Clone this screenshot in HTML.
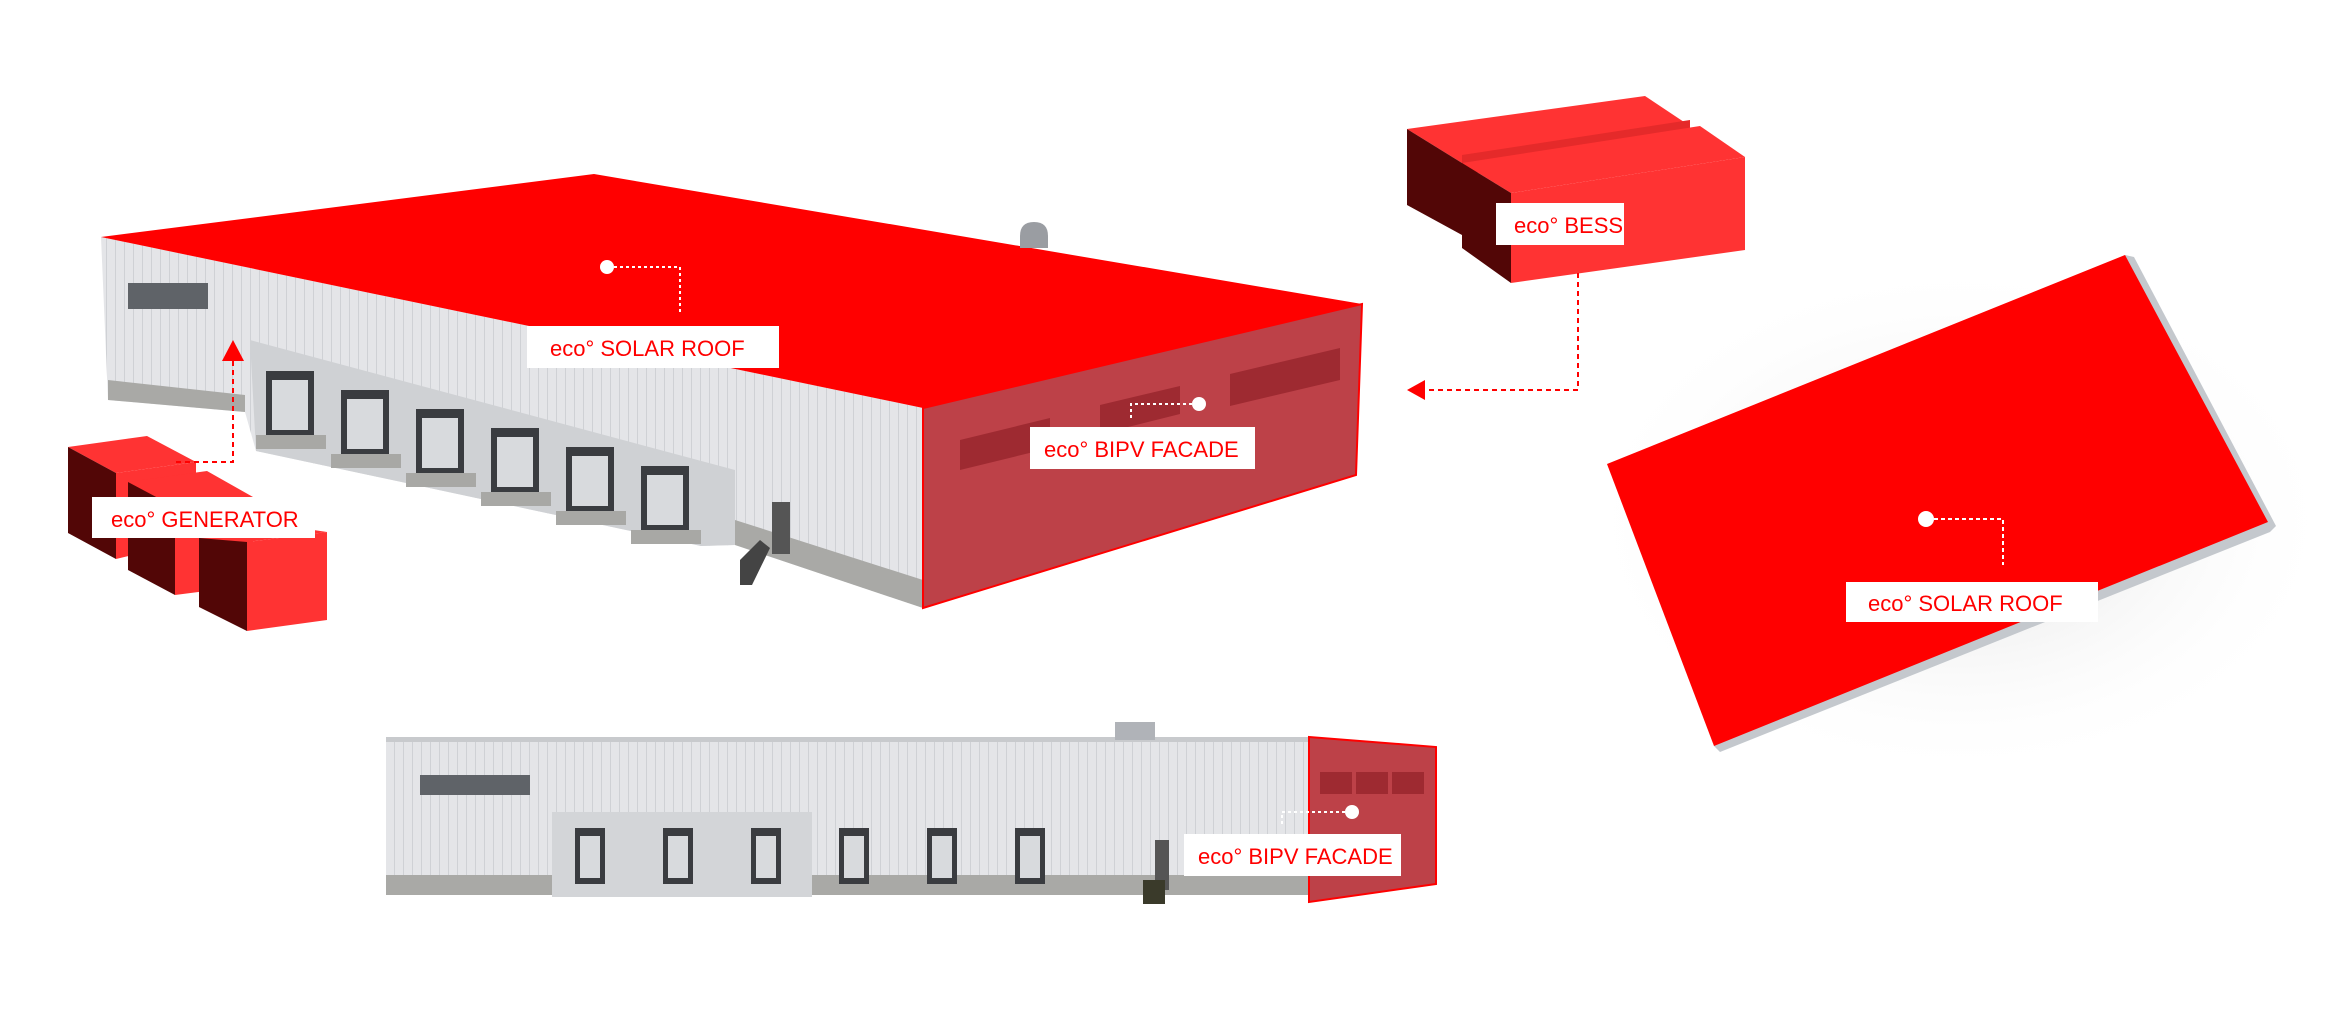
<!DOCTYPE html>
<html><head><meta charset="utf-8"><style>
html,body{margin:0;padding:0;background:#fff;}
svg{display:block;}
.lbl{font-family:"Liberation Sans",sans-serif;fill:#ff0000;font-size:22px;}
</style></head><body>
<svg width="2327" height="1021" viewBox="0 0 2327 1021" xmlns="http://www.w3.org/2000/svg">
<defs>
<pattern id="rib" width="9" height="20" patternUnits="userSpaceOnUse"><rect width="9" height="20" fill="#e4e5e8"/><rect x="7" width="1" height="20" fill="#cfd1d5"/></pattern>
<radialGradient id="sh" cx="0.5" cy="0.5" r="0.5"><stop offset="0" stop-color="#ddd"/><stop offset="1" stop-color="#fff" stop-opacity="0"/></radialGradient>
</defs>

<!-- MAIN BUILDING -->
<polygon points="101,237 923,408 923,608 735,545 701,546 256,451 245,412 108,400" fill="url(#rib)"/>
<polygon points="250,340 735,470 735,545 701,546 256,451" fill="#cfd1d4"/>
<polygon points="108,380 245,395 245,412 108,400" fill="#a9a9a6"/>
<polygon points="735,520 923,580 923,608 735,545" fill="#a9a9a6"/>
<!-- docks -->
<g fill="#3a3c40">
<rect x="266" y="371" width="48" height="64"/><rect x="341" y="390" width="48" height="64"/><rect x="416" y="409" width="48" height="64"/><rect x="491" y="428" width="48" height="64"/><rect x="566" y="447" width="48" height="64"/><rect x="641" y="466" width="48" height="64"/>
</g>
<g fill="#d8dadd">
<rect x="272" y="380" width="36" height="50"/><rect x="347" y="399" width="36" height="50"/><rect x="422" y="418" width="36" height="50"/><rect x="497" y="437" width="36" height="50"/><rect x="572" y="456" width="36" height="50"/><rect x="647" y="475" width="36" height="50"/>
</g>
<g fill="#a8a8a5">
<rect x="256" y="435" width="70" height="14"/><rect x="331" y="454" width="70" height="14"/><rect x="406" y="473" width="70" height="14"/><rect x="481" y="492" width="70" height="14"/><rect x="556" y="511" width="70" height="14"/><rect x="631" y="530" width="70" height="14"/>
</g>
<rect x="128" y="283" width="80" height="26" fill="#5f6368"/>
<rect x="772" y="502" width="18" height="52" fill="#555"/>
<polygon points="740,560 760,540 770,548 752,585 740,585" fill="#444"/>
<!-- roof -->
<polygon points="101,237 594,174 1362,304 923,408" fill="#ff0000"/>
<path d="M1020,236 q0,-14 14,-14 q14,0 14,14 v12 h-28z" fill="#9a9da2"/>
<!-- facade -->
<polygon points="923,408 1362,304 1356,475 923,608" fill="#bd4148" stroke="#ff0000" stroke-width="2"/>
<g fill="#9e2a31">
<polygon points="960,440 1050,418 1050,448 960,470"/><polygon points="1100,405 1180,386 1180,414 1100,434"/><polygon points="1230,374 1340,348 1340,380 1230,406"/>
</g>
<!-- solar roof label -->
<circle cx="607" cy="267" r="7" fill="#fff"/>
<path d="M614,267 H680 V312" stroke="#fff" stroke-width="2" stroke-dasharray="3,3" fill="none"/>
<rect x="527" y="326" width="252" height="42" fill="#fff"/>
<text x="550" y="356" class="lbl">eco° SOLAR ROOF</text>
<!-- facade label -->
<circle cx="1199" cy="404" r="7" fill="#fff"/>
<path d="M1192,404 H1131 V421" stroke="#fff" stroke-width="2" stroke-dasharray="3,3" fill="none"/>
<rect x="1030" y="427" width="225" height="42" fill="#fff"/>
<text x="1044" y="457" class="lbl">eco° BIPV FACADE</text>

<!-- GENERATOR -->
<polygon points="68,447 147,436 196,462 116,473" fill="#ff3333"/>
<polygon points="68,447 116,473 116,559 68,533" fill="#520606"/>
<polygon points="116,473 196,462 196,540 116,559" fill="#ff3333"/>
<polygon points="128,482 207,471 253,497 175,507" fill="#ff3333"/>
<polygon points="128,482 175,507 175,595 128,570" fill="#520606"/>
<polygon points="175,507 253,497 253,585 175,595" fill="#ff3333"/>
<polygon points="199,538 280,525 327,532 247,542" fill="#ff3333"/>
<polygon points="199,538 247,542 247,631 199,607" fill="#520606"/>
<polygon points="247,542 327,532 327,620 247,631" fill="#ff3333"/>
<path d="M176,462 H233 V360" stroke="#ff0000" stroke-width="2" stroke-dasharray="5,4" fill="none"/>
<polygon points="222,361 233,340 244,361" fill="#ff0000"/>
<rect x="92" y="497" width="223" height="41" fill="#fff"/>
<text x="111" y="527" class="lbl">eco° GENERATOR</text>

<!-- BESS -->
<polygon points="1407,129 1645,96 1690,126 1462,163" fill="#ff3333"/>
<polygon points="1407,129 1462,163 1462,235 1407,205" fill="#520606"/>
<polygon points="1462,155 1690,120 1690,140 1462,175" fill="#e52a2a"/>
<polygon points="1462,163 1700,126 1745,157 1511,193" fill="#ff3333"/>
<polygon points="1462,163 1511,193 1511,283 1462,248" fill="#520606"/>
<polygon points="1511,193 1745,157 1745,250 1511,283" fill="#ff3333"/>
<rect x="1496" y="203" width="128" height="42" fill="#fff"/>
<text x="1514" y="233" class="lbl">eco° BESS</text>
<path d="M1578,273 V390 H1425" stroke="#ff0000" stroke-width="2" stroke-dasharray="5,4" fill="none"/>
<polygon points="1425,380 1407,390 1425,400" fill="#ff0000"/>

<!-- TOP VIEW ROOF -->
<ellipse cx="1960" cy="520" rx="380" ry="260" fill="url(#sh)"/>
<polygon points="2125,255 2134,257 2276,526 2270,532 1720,752 1714,746" fill="#c4c8cd"/>
<polygon points="1607,464 2125,255 2268,522 1714,746" fill="#ff0000"/>
<circle cx="1926" cy="519" r="8" fill="#fff"/>
<path d="M1934,519 H2003 V565" stroke="#fff" stroke-width="2" stroke-dasharray="4,3" fill="none"/>
<rect x="1846" y="582" width="252" height="40" fill="#fff"/>
<text x="1868" y="611" class="lbl">eco° SOLAR ROOF</text>

<!-- ELEVATION -->
<rect x="386" y="740" width="923" height="155" fill="url(#rib)"/>
<rect x="386" y="737" width="923" height="5" fill="#c8cacd"/>
<rect x="1115" y="722" width="40" height="18" fill="#b0b3b8"/>
<rect x="386" y="875" width="923" height="20" fill="#a9a9a6"/>
<rect x="420" y="775" width="110" height="20" fill="#5f6368"/>
<rect x="552" y="812" width="260" height="85" fill="#d3d5d8"/>
<g fill="#3a3c40">
<rect x="575" y="828" width="30" height="56"/><rect x="663" y="828" width="30" height="56"/><rect x="751" y="828" width="30" height="56"/><rect x="839" y="828" width="30" height="56"/><rect x="927" y="828" width="30" height="56"/><rect x="1015" y="828" width="30" height="56"/>
</g>
<g fill="#d8dadd">
<rect x="580" y="836" width="20" height="42"/><rect x="668" y="836" width="20" height="42"/><rect x="756" y="836" width="20" height="42"/><rect x="844" y="836" width="20" height="42"/><rect x="932" y="836" width="20" height="42"/><rect x="1020" y="836" width="20" height="42"/>
</g>
<rect x="1155" y="840" width="14" height="50" fill="#555"/>
<rect x="1143" y="880" width="22" height="24" fill="#3a3a2a"/>
<polygon points="1309,737 1436,747 1436,884 1309,902" fill="#bd4148" stroke="#ff0000" stroke-width="2"/>
<g fill="#9e2a31"><rect x="1320" y="772" width="32" height="22"/><rect x="1356" y="772" width="32" height="22"/><rect x="1392" y="772" width="32" height="22"/></g>
<circle cx="1352" cy="812" r="7" fill="#fff"/>
<path d="M1345,812 H1282 V826" stroke="#fff" stroke-width="2" stroke-dasharray="3,3" fill="none"/>
<rect x="1184" y="834" width="217" height="42" fill="#fff"/>
<text x="1198" y="864" class="lbl">eco° BIPV FACADE</text>
</svg>
</body></html>
